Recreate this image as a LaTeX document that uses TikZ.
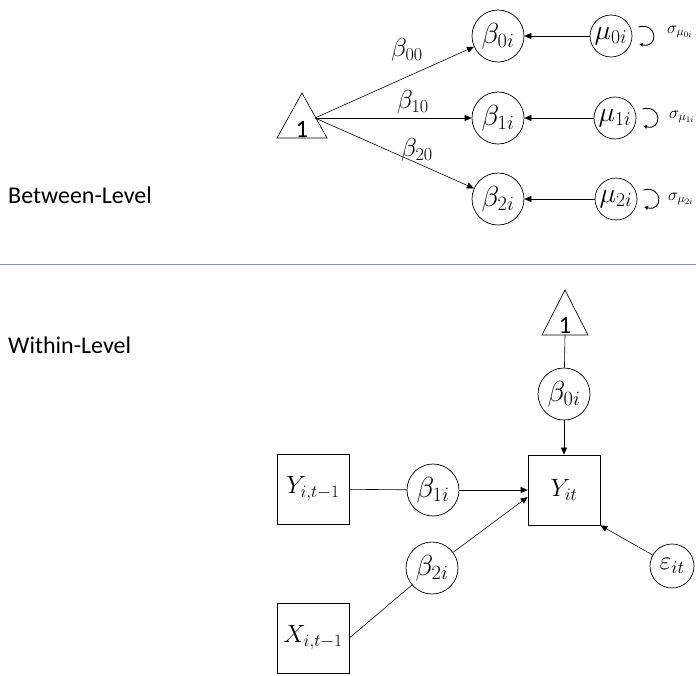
\RequirePackage{fix-cm}
\documentclass[tikz,border=0pt]{standalone}
\usepackage{fontspec}
\newfontfamily\carl{Carlito}
\usetikzlibrary{arrows.meta,calc}
\definecolor{sepblue}{RGB}{110,145,225}
\begin{document}
\begin{tikzpicture}[x=1pt,y=-1pt,
  lat/.style={circle,draw,line width=0.7pt,minimum size=52pt,inner sep=0pt,font=\fontsize{29}{33}\selectfont},
  mu/.style={circle,draw,line width=0.7pt,minimum size=42pt,inner sep=0pt,font=\fontsize{28}{32}\selectfont},
  obs/.style={rectangle,draw,line width=0.7pt,minimum width=72pt,minimum height=70pt,inner sep=0pt,font=\fontsize{25}{29}\selectfont},
  coef/.style={font=\fontsize{26}{30}\selectfont,inner sep=0pt},
  sig/.style={font=\fontsize{17}{20}\selectfont,inner sep=0pt,anchor=west},
  lbl/.style={font=\carl\fontsize{24}{28}\selectfont,inner sep=0pt,anchor=base west},
  one/.style={font=\carl\fontsize{25}{29}\selectfont,inner sep=0pt},
  arr/.style={line width=0.6pt,-{Triangle[length=7pt,width=6pt]}},
  ln/.style={line width=0.6pt},
  tri/.style={line width=0.7pt,line join=miter},
  loop/.style={line width=0.9pt,-{Triangle[length=3.5pt,width=4pt]}},
]
\useasboundingbox (0,0) rectangle (696,675);
% separator and level labels
\draw[sepblue,line width=1pt] (0,264) -- (696,264);
\node[lbl] (bl) at (8,203) {Between-Level};
\node[lbl] (wl) at (8,353) {Within-Level};

% ---------- Between level ----------
\draw[tri] (302,93) -- (327,138) -- (277,138) -- cycle;
\node[one] (one1) at (302,129) {1};
\coordinate (t1o) at (315,118);

\node[lat] (b0) at (498,36) {$\beta_{0i}$};
\node[lat] (b1) at (498,118) {$\beta_{1i}$};
\node[lat] (b2) at (498,199) {$\beta_{2i}$};
\node[mu] (m0) at (611,36) {$\mu_{0i}$};
\node[mu] (m1) at (615,118) {$\mu_{1i}$};
\node[mu] (m2) at (616,199) {$\mu_{2i}$};

\draw[arr] (t1o) -- (b0);
\draw[arr] (t1o) -- (b1);
\draw[arr] (t1o) -- (b2);
\node[coef] (c00) at (407,50) {$\beta_{00}$};
\node[coef] (c10) at (413,102) {$\beta_{10}$};
\node[coef] (c20) at (417,150) {$\beta_{20}$};

\draw[arr] (m0) -- (b0);
\draw[arr] (m1) -- (b1);
\draw[arr] (m2) -- (b2);

\foreach \m in {m0,m1,m2}{
  \draw[loop] ($(\m.east)+(6,-9)$) .. controls +(20,-5) and +(19,5) .. ($(\m.east)+(7,8)$);
}
\node[sig] (s0) at (667,32) {$\sigma_{\mu_{0i}}$};
\node[sig] (s1) at (669,117) {$\sigma_{\mu_{1i}}$};
\node[sig] (s2) at (668,199) {$\sigma_{\mu_{2i}}$};

% ---------- Within level ----------
\draw[tri] (565,290) -- (588,335) -- (542,335) -- cycle;
\node[one] (one2) at (565,325) {1};
\coordinate (t2b) at (565,335);

\node[lat] (w0) at (564,394) {$\beta_{0i}$};
\node[obs] (Y) at (564,490) {$Y_{it}$};
\node[obs] (Yl) at (313,489) {$Y_{i,t-1}$};
\node[obs] (Xl) at (313,638) {$X_{i,t-1}$};
\node[lat] (w1) at (433,490) {$\beta_{1i}$};
\node[lat] (w2) at (432,568) {$\beta_{2i}$};
\node[circle,draw,line width=0.7pt,minimum size=44pt,inner sep=0pt,font=\fontsize{26}{30}\selectfont] (eps) at (672,566) {$\varepsilon_{it}$};

\draw[ln] (t2b) -- (w0);
\draw[arr] (w0) -- (Y);
\draw[ln] (Yl) -- (w1);
\draw[arr] (w1) -- (Y.west);
\draw[ln] (Xl.east) -- (w2);
\draw[arr] (w2) -- ([yshift=-7pt]Y.west);
\draw[arr] (eps) -- (Y.south east);
\end{tikzpicture}
\end{document}
